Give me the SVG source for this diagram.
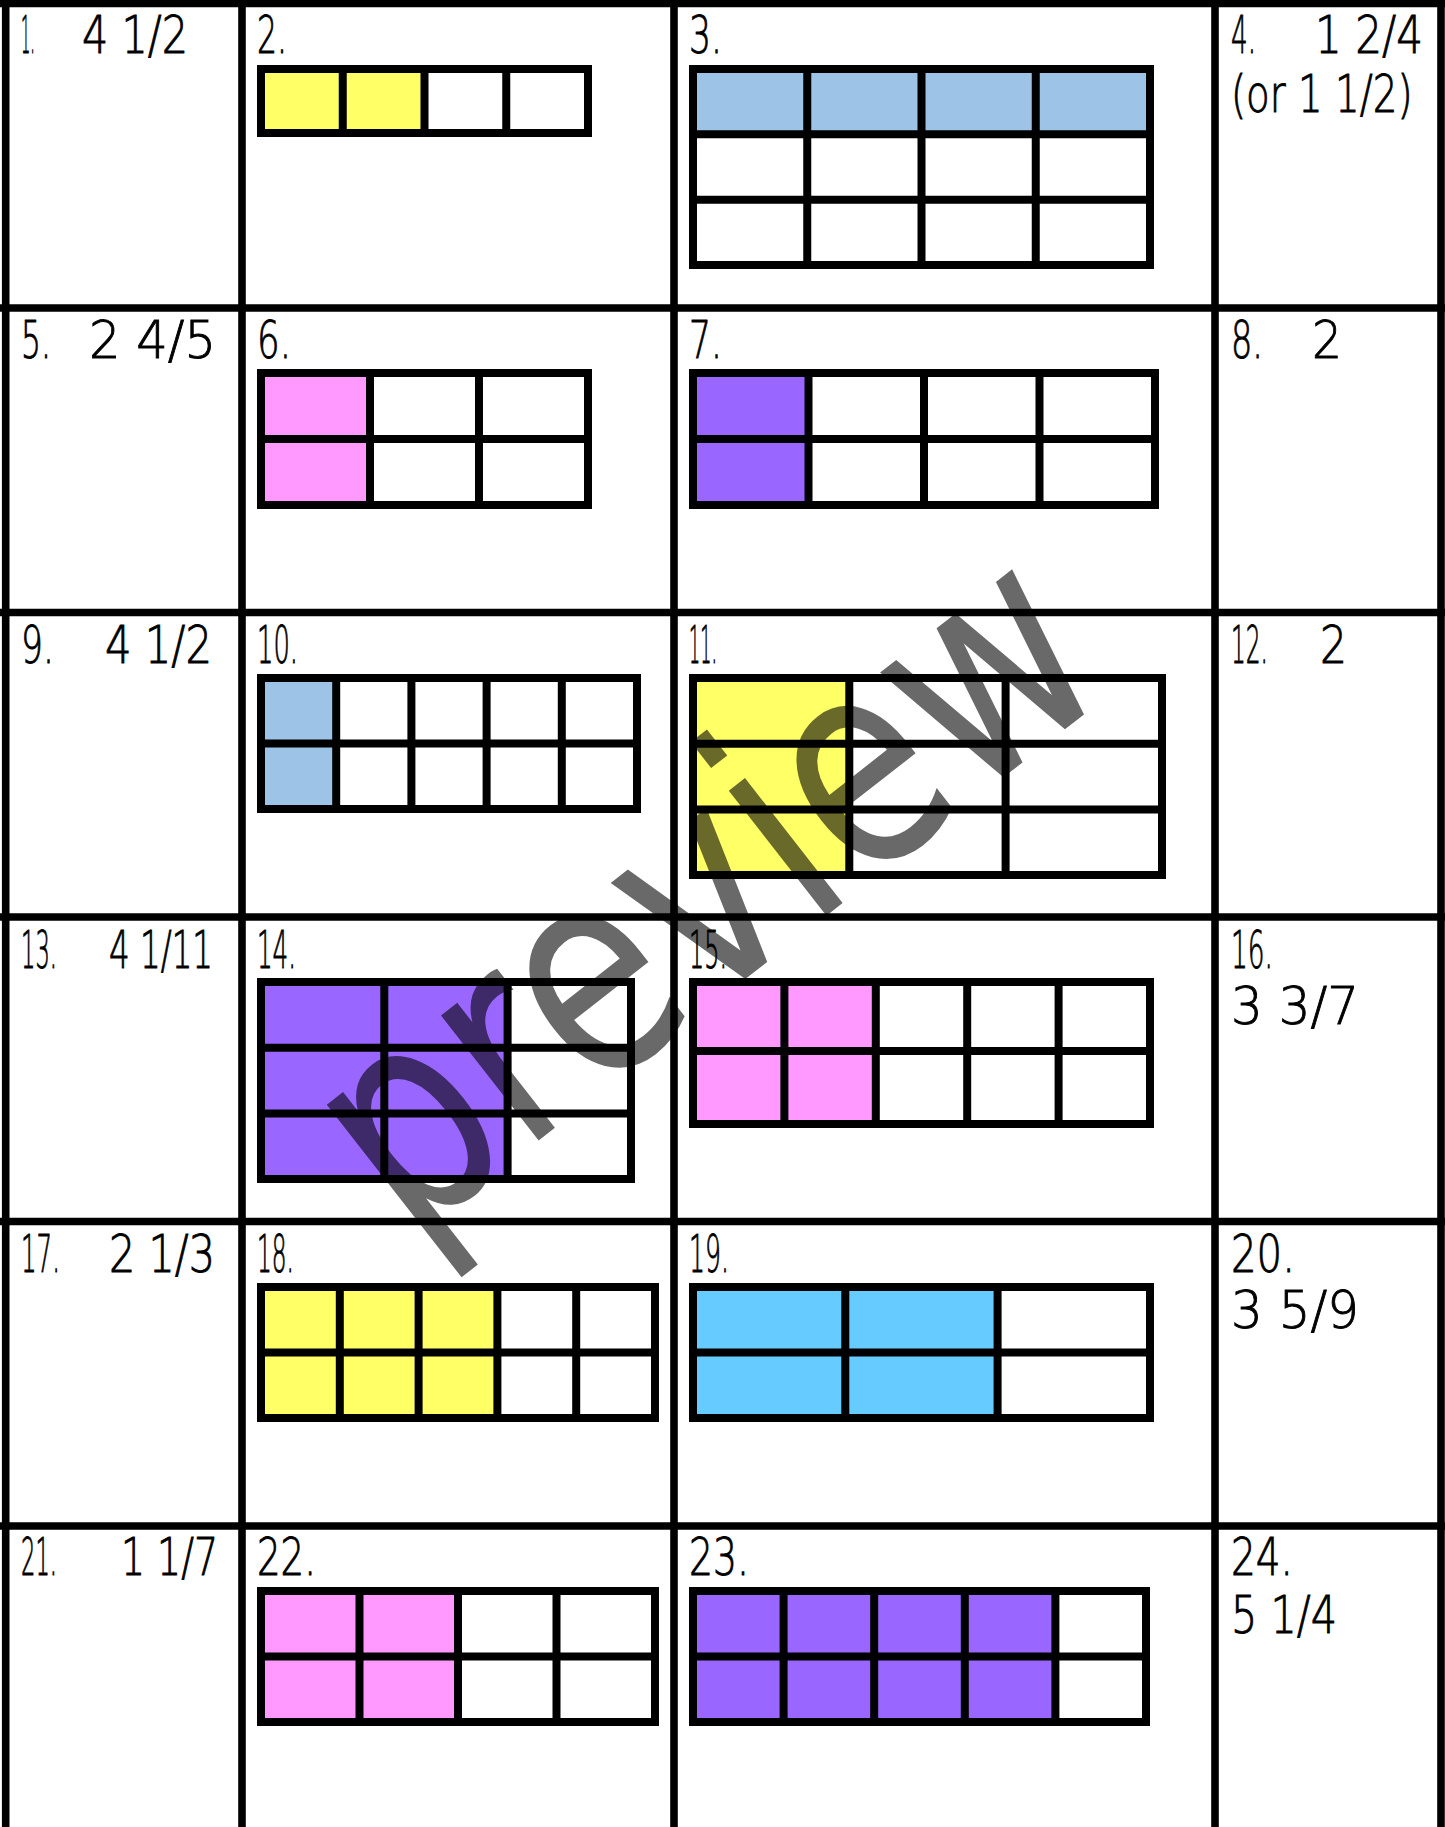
<svg xmlns="http://www.w3.org/2000/svg" width="1445" height="1827" viewBox="0 0 1445 1827">
<style>
text{font-family:"DejaVu Sans","Liberation Sans",sans-serif;font-size:51px;font-weight:200;fill:#000;stroke:#000;stroke-width:0.9}
.grid line{stroke:#000;stroke-width:7.6}
.box{fill:none;stroke:#000;stroke-width:8}
.div{fill:none;stroke:#000;stroke-width:8}
.y{fill:#FFFF66}.b{fill:#9DC3E6}.p{fill:#FF99FF}.v{fill:#9966FF}.c{fill:#66CCFF}
.wm{font-family:"DejaVu Sans",sans-serif;font-weight:400;font-size:290px;fill:#000;fill-opacity:0.59;stroke:none}
</style>
<rect width="1445" height="1827" fill="#fff"/>
<g id="grid" class="grid">
<line x1="5.7" y1="0" x2="5.7" y2="1827"/>
<line x1="242" y1="0" x2="242" y2="1827"/>
<line x1="674" y1="0" x2="674" y2="1827"/>
<line x1="1215" y1="0" x2="1215" y2="1827"/>
<line x1="1441" y1="0" x2="1441" y2="1827"/>
<line x1="0" y1="3.5" x2="1445" y2="3.5"/>
<line x1="0" y1="308" x2="1445" y2="308"/>
<line x1="0" y1="612.5" x2="1445" y2="612.5"/>
<line x1="0" y1="917" x2="1445" y2="917"/>
<line x1="0" y1="1221.5" x2="1445" y2="1221.5"/>
<line x1="0" y1="1526" x2="1445" y2="1526"/>
</g>

<g id="cell1"><text x="21" y="53" textLength="14" lengthAdjust="spacingAndGlyphs">1.</text><text x="82" y="53" textLength="106" lengthAdjust="spacingAndGlyphs">4 1/2</text></g>
<g id="cell2"><text x="257" y="53" textLength="30" lengthAdjust="spacingAndGlyphs">2.</text>
<g transform="translate(261,69)"><rect class="y" width="163.5" height="64"/><rect class="box" width="327" height="64"/><path class="div" d="M81.75 0V64M163.5 0V64M245.25 0V64"/></g></g>
<g id="cell3"><text x="689" y="53" textLength="33" lengthAdjust="spacingAndGlyphs">3.</text>
<g transform="translate(693,69)"><rect class="b" width="457" height="65.33"/><rect class="box" width="457" height="196"/><path class="div" d="M114.25 0V196M228.5 0V196M342.75 0V196M0 65.33H457M0 130.67H457"/></g></g>
<g id="cell4"><text x="1231" y="53" textLength="25" lengthAdjust="spacingAndGlyphs">4.</text><text x="1315" y="53" textLength="108" lengthAdjust="spacingAndGlyphs">1 2/4</text><text transform="translate(1231,112) scale(0.76,1)" x="0" y="0">(or 1 1/2)</text></g>

<g id="cell5"><text x="21" y="358" textLength="30" lengthAdjust="spacingAndGlyphs">5.</text><text x="89" y="358" textLength="127" lengthAdjust="spacingAndGlyphs">2 4/5</text></g>
<g id="cell6"><text x="257" y="358" textLength="34" lengthAdjust="spacingAndGlyphs">6.</text>
<g transform="translate(261,373)"><rect class="p" width="109" height="132"/><rect class="box" width="327" height="132"/><path class="div" d="M109 0V132M218 0V132M0 66H327"/></g></g>
<g id="cell7"><text x="689" y="358" textLength="33" lengthAdjust="spacingAndGlyphs">7.</text>
<g transform="translate(693,373)"><rect class="v" width="115.5" height="132"/><rect class="box" width="462" height="132"/><path class="div" d="M115.5 0V132M231 0V132M346.5 0V132M0 66H462"/></g></g>
<g id="cell8"><text x="1231" y="358" textLength="32" lengthAdjust="spacingAndGlyphs">8.</text><text x="1312" y="358" textLength="30" lengthAdjust="spacingAndGlyphs">2</text></g>

<g id="cell9"><text x="21" y="663" textLength="33" lengthAdjust="spacingAndGlyphs">9.</text><text x="105" y="663" textLength="107" lengthAdjust="spacingAndGlyphs">4 1/2</text></g>
<g id="cell10"><text x="257" y="663" textLength="41" lengthAdjust="spacingAndGlyphs">10.</text>
<g transform="translate(261,678)"><rect class="b" width="75.2" height="131"/><rect class="box" width="376" height="131"/><path class="div" d="M75.2 0V131M150.4 0V131M225.6 0V131M300.8 0V131M0 65.5H376"/></g></g>
<g id="cell11"><text x="689" y="663" textLength="28" lengthAdjust="spacingAndGlyphs">11.</text>
<g transform="translate(693,678)"><rect class="y" width="156.3" height="197"/><rect class="box" width="469" height="197"/><path class="div" d="M156.3 0V197M312.6 0V197M0 65.7H469M0 131.4H469"/></g></g>
<g id="cell12"><text x="1231" y="663" textLength="37" lengthAdjust="spacingAndGlyphs">12.</text><text x="1320" y="663" textLength="27" lengthAdjust="spacingAndGlyphs">2</text></g>

<g id="cell13"><text x="21" y="968" textLength="36" lengthAdjust="spacingAndGlyphs">13.</text><text x="109" y="968" textLength="104" lengthAdjust="spacingAndGlyphs">4 1/11</text></g>
<g id="cell14"><text x="257" y="968" textLength="39" lengthAdjust="spacingAndGlyphs">14.</text>
<g transform="translate(261,982)"><rect class="v" width="246.6" height="197"/><rect class="box" width="370" height="197"/><path class="div" d="M123.3 0V197M246.6 0V197M0 65.7H370M0 131.4H370"/></g></g>
<g id="cell15"><text x="689" y="968" textLength="38" lengthAdjust="spacingAndGlyphs">15.</text>
<g transform="translate(693,982)"><rect class="p" width="182.8" height="142"/><rect class="box" width="457" height="142"/><path class="div" d="M91.4 0V142M182.8 0V142M274.2 0V142M365.6 0V142M0 69H457"/></g></g>
<g id="cell16"><text x="1231" y="968" textLength="42" lengthAdjust="spacingAndGlyphs">16.</text><text x="1231" y="1024" textLength="128" lengthAdjust="spacingAndGlyphs">3 3/7</text></g>

<g id="cell17"><text x="21" y="1272" textLength="39" lengthAdjust="spacingAndGlyphs">17.</text><text x="109" y="1272" textLength="106" lengthAdjust="spacingAndGlyphs">2 1/3</text></g>
<g id="cell18"><text x="257" y="1272" textLength="37" lengthAdjust="spacingAndGlyphs">18.</text>
<g transform="translate(261,1287)"><rect class="y" width="236.4" height="131"/><rect class="box" width="394" height="131"/><path class="div" d="M78.8 0V131M157.6 0V131M236.4 0V131M315.2 0V131M0 65.5H394"/></g></g>
<g id="cell19"><text x="689" y="1272" textLength="40" lengthAdjust="spacingAndGlyphs">19.</text>
<g transform="translate(693,1287)"><rect class="c" width="304.6" height="131"/><rect class="box" width="457" height="131"/><path class="div" d="M152.3 0V131M304.6 0V131M0 65.5H457"/></g></g>
<g id="cell20"><text x="1231" y="1272" textLength="64" lengthAdjust="spacingAndGlyphs">20.</text><text x="1231" y="1328" textLength="128" lengthAdjust="spacingAndGlyphs">3 5/9</text></g>

<g id="cell21"><text x="21" y="1575" textLength="36" lengthAdjust="spacingAndGlyphs">21.</text><text x="121" y="1575" textLength="97" lengthAdjust="spacingAndGlyphs">1 1/7</text></g>
<g id="cell22"><text x="257" y="1575" textLength="59" lengthAdjust="spacingAndGlyphs">22.</text>
<g transform="translate(261,1591)"><rect class="p" width="197" height="131"/><rect class="box" width="394" height="131"/><path class="div" d="M98.5 0V131M197 0V131M295.5 0V131M0 65.5H394"/></g></g>
<g id="cell23"><text x="689" y="1575" textLength="60" lengthAdjust="spacingAndGlyphs">23.</text>
<g transform="translate(693,1591)"><rect class="v" width="362.4" height="131"/><rect class="box" width="453" height="131"/><path class="div" d="M90.6 0V131M181.2 0V131M271.8 0V131M362.4 0V131M0 65.5H453"/></g></g>
<g id="cell24"><text x="1231" y="1575" textLength="62" lengthAdjust="spacingAndGlyphs">24.</text><text x="1231" y="1633" textLength="106" lengthAdjust="spacingAndGlyphs">5 1/4</text></g>

<g id="watermark"><text class="wm" transform="translate(735,930) rotate(-38)" x="0" y="45" text-anchor="middle" textLength="900" lengthAdjust="spacingAndGlyphs">preview</text></g>
</svg>
